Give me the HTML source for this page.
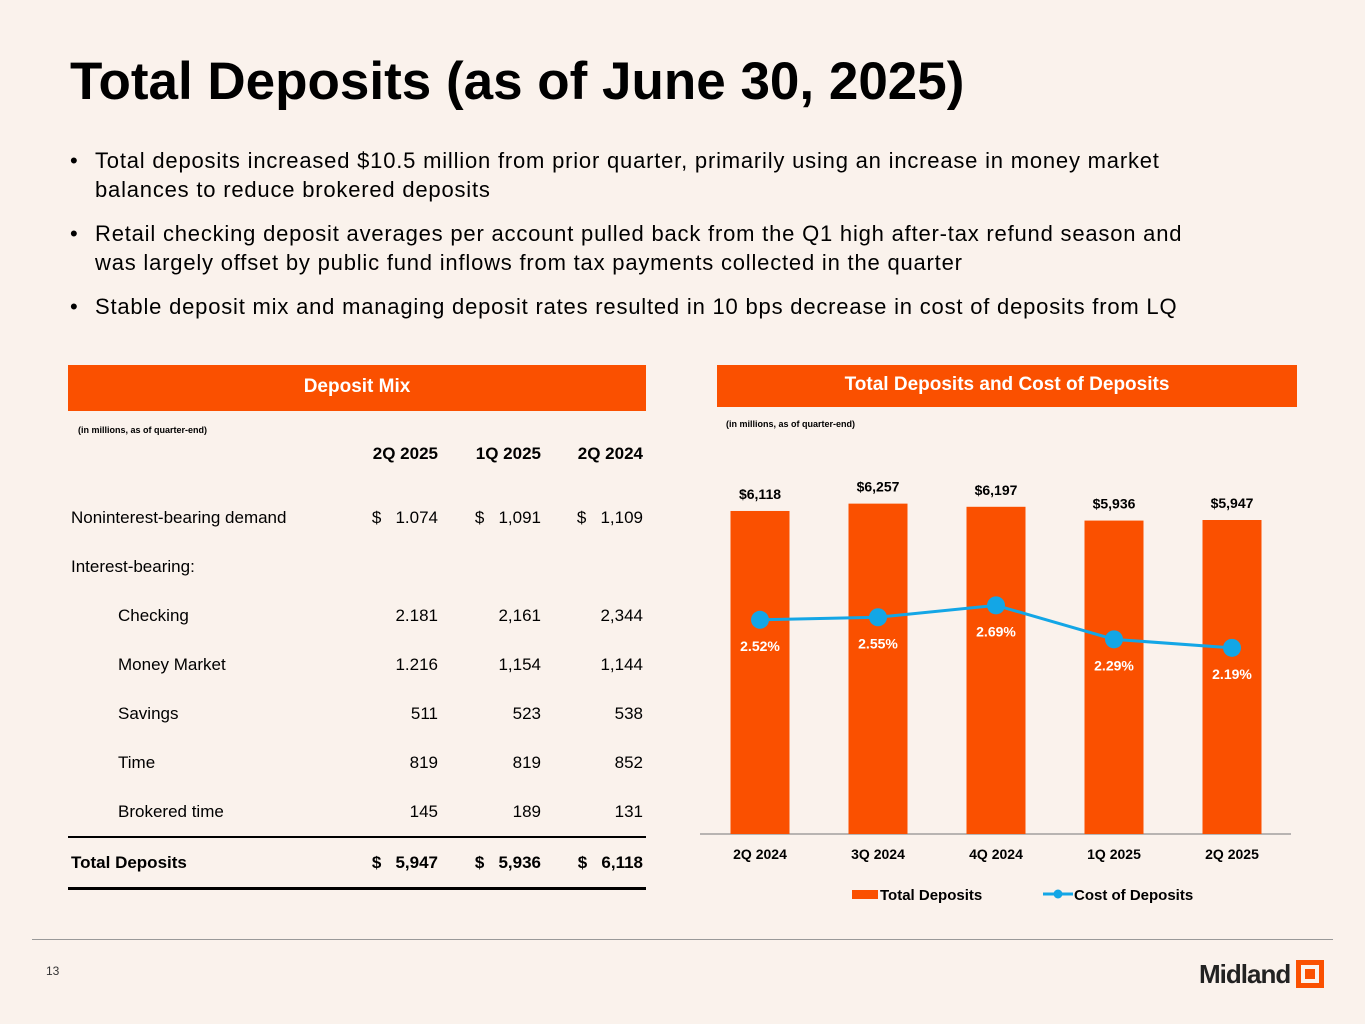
<!DOCTYPE html>
<html><head><meta charset="utf-8"><style>
body{margin:0;width:1365px;height:1024px;background:#faf2ec;font-family:"Liberation Sans",Arial,sans-serif;position:relative;overflow:hidden;color:#000}
.abs{position:absolute}
h1{position:absolute;left:70px;top:51px;margin:0;font-size:53px;font-weight:bold;letter-spacing:0px}
ul{position:absolute;left:70px;top:146px;margin:0;padding:0;list-style:none;font-size:22px;letter-spacing:0.8px;line-height:29px;width:1250px;white-space:nowrap}
ul li{position:relative;padding-left:25px;margin-bottom:15px}
ul li:before{content:"•";position:absolute;left:0}
.hdr{position:absolute;background:#fa5000;color:#fff;font-weight:bold;font-size:19px;text-align:center;line-height:44px}
.note{position:absolute;font-size:9px;font-weight:bold}
table{position:absolute;left:68px;top:432px;width:578px;border-collapse:collapse;font-size:17px}
td{height:49px;padding:0 3px;white-space:nowrap}
td.n{text-align:right}
.th td{font-weight:bold;height:44px}
</style></head><body>
<h1>Total Deposits (as of June 30, 2025)</h1>
<ul>
<li>Total deposits increased $10.5 million from prior quarter, primarily using an increase in money market<br>balances to reduce brokered deposits</li>
<li>Retail checking deposit averages per account pulled back from the Q1 high after-tax refund season and<br>was largely offset by public fund inflows from tax payments collected in the quarter</li>
<li>Stable deposit mix and managing deposit rates resulted in 10 bps decrease in cost of deposits from LQ</li>
</ul>
<div class="hdr" style="left:68px;top:365px;width:578px;height:46px;line-height:44px">Deposit Mix</div>
<div class="note" style="left:78px;top:425px">(in millions, as of quarter-end)</div>
<table>
<tr class="th"><td></td><td class="n" style="width:97px">2Q 2025</td><td class="n" style="width:97px">1Q 2025</td><td class="n" style="width:96px">2Q 2024</td></tr>
<tr><td colspan="4" style="height:17px"></td></tr>
<tr><td>Noninterest-bearing demand</td><td class="n">$&nbsp;&nbsp;&nbsp;1.074</td><td class="n">$&nbsp;&nbsp;&nbsp;1,091</td><td class="n">$&nbsp;&nbsp;&nbsp;1,109</td></tr>
<tr><td>Interest-bearing:</td><td></td><td></td><td></td></tr>
<tr><td style="padding-left:50px">Checking</td><td class="n">2.181</td><td class="n">2,161</td><td class="n">2,344</td></tr>
<tr><td style="padding-left:50px">Money Market</td><td class="n">1.216</td><td class="n">1,154</td><td class="n">1,144</td></tr>
<tr><td style="padding-left:50px">Savings</td><td class="n">511</td><td class="n">523</td><td class="n">538</td></tr>
<tr><td style="padding-left:50px">Time</td><td class="n">819</td><td class="n">819</td><td class="n">852</td></tr>
<tr><td style="padding-left:50px">Brokered time</td><td class="n">145</td><td class="n">189</td><td class="n">131</td></tr>
<tr style="font-weight:bold;border-top:2px solid #000;border-bottom:3px solid #000"><td>Total Deposits</td><td class="n">$&nbsp;&nbsp;&nbsp;5,947</td><td class="n">$&nbsp;&nbsp;&nbsp;5,936</td><td class="n">$&nbsp;&nbsp;&nbsp;6,118</td></tr>
</table>
<div class="hdr" style="left:717px;top:365px;width:580px;height:42px;line-height:40px">Total Deposits and Cost of Deposits</div>
<div class="note" style="left:726px;top:419px">(in millions, as of quarter-end)</div>
<svg class="abs" style="left:0;top:0" width="1365" height="1024" id="chart"></svg>
<div class="abs" style="left:32px;top:939px;width:1301px;height:1px;background:#999"></div>
<div class="abs" style="left:46px;top:964px;font-size:12px;color:#333">13</div>
<div class="abs" style="left:1199px;top:959px;font-size:26px;font-weight:bold;letter-spacing:-1px;color:#222">Midland</div>
<div class="abs" style="left:1296px;top:960px;width:18px;height:18px;border:5px solid #fa5000;background:#faf2ec"><div style="margin:4px;width:10px;height:10px;background:#fa5000"></div></div>
<script>
const categories=["2Q 2024","3Q 2024","4Q 2024","1Q 2025","2Q 2025"];
const deposits=[6118,6257,6197,5936,5947];
const depositLabels=["$6,118","$6,257","$6,197","$5,936","$5,947"];
const costs=[2.52,2.55,2.69,2.29,2.19];
const costLabels=["2.52%","2.55%","2.69%","2.29%","2.19%"];
const svg=document.getElementById('chart');const NS="http://www.w3.org/2000/svg";
const base=834;
const x=i=>760+i*118;
const yBar=v=>base-v*0.0528;
const yLine=v=>base-v*85;
function mk(t,a,txt){const e=document.createElementNS(NS,t);for(const k in a)e.setAttribute(k,a[k]);if(txt!==undefined)e.textContent=txt;svg.appendChild(e);return e;}
const ax=mk('line',{x1:700,x2:1291,y1:base,y2:base,stroke:'#777','stroke-width':1});


deposits.forEach((v,i)=>{
 const r=mk('rect',{x:x(i)-29.5,y:yBar(v),width:59,height:base-yBar(v),fill:'#fa5000'});
 
 
 const t=mk('text',{x:x(i),y:yBar(v)-12,'text-anchor':'middle','font-size':14,'font-weight':'bold','font-family':'Liberation Sans,sans-serif'},depositLabels[i]);
 
 
 const c=mk('text',{x:x(i),y:base+25,'text-anchor':'middle','font-size':14,'font-weight':'bold','font-family':'Liberation Sans,sans-serif'},categories[i]);
 
 
});
const pl=mk('polyline',{points:costs.map((v,i)=>x(i)+','+yLine(v)).join(' '),fill:'none',stroke:'#13a6e6','stroke-width':3});


costs.forEach((v,i)=>{
 const c=mk('circle',{cx:x(i),cy:yLine(v),r:9,fill:'#13a6e6'});
 
 
 const t=mk('text',{x:x(i),y:yLine(v)+31,'text-anchor':'middle','font-size':14,'font-weight':'bold',fill:'#fff','font-family':'Liberation Sans,sans-serif'},costLabels[i]);
 
 
});
const l1=mk('rect',{x:852,y:890,width:26,height:9,fill:'#fa5000'});


const l1t=mk('text',{x:880,y:900,'font-size':15,'font-weight':'bold','font-family':'Liberation Sans,sans-serif'},'Total Deposits');


const l2=mk('line',{x1:1043,x2:1073,y1:894,y2:894,stroke:'#13a6e6','stroke-width':3});


const l2c=mk('circle',{cx:1058,cy:894,r:4.5,fill:'#13a6e6'});


const l2t=mk('text',{x:1074,y:900,'font-size':15,'font-weight':'bold','font-family':'Liberation Sans,sans-serif'},'Cost of Deposits');


</script>
</body></html>
